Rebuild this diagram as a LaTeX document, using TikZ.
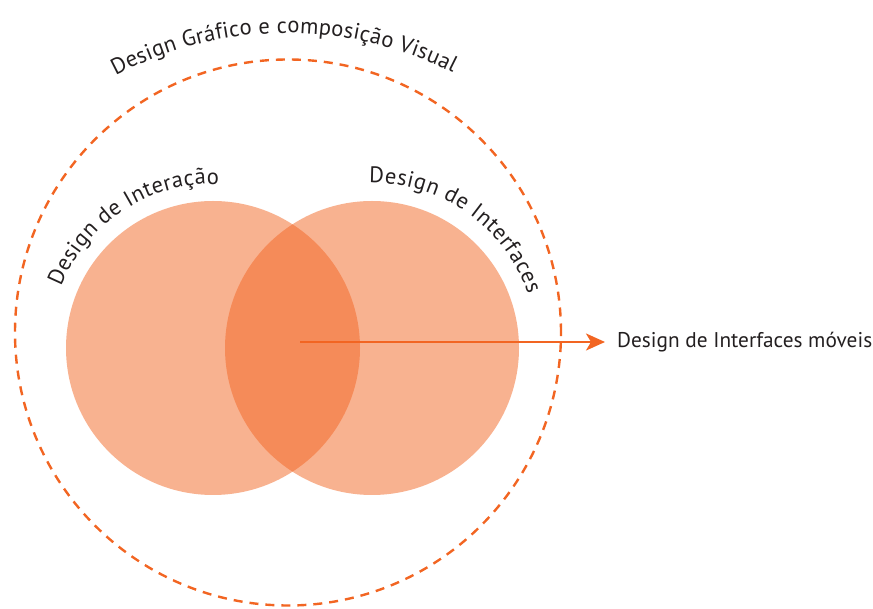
\documentclass[tikz,border=0pt]{standalone}
\usepackage{fontspec}
\setmainfont{PT Sans}
\usetikzlibrary{decorations.text,arrows.meta}
\definecolor{orng}{HTML}{F26522}
\definecolor{txtc}{HTML}{231F20}
\begin{document}
\begin{tikzpicture}[x=1pt,y=1pt,
  venn/.style={fill=orng, fill opacity=0.5},
  outerring/.style={draw=orng, line width=2.4pt, dash pattern=on 9pt off 7pt},
  curvedlabel/.style={decorate, text=txtc},
  mainarrow/.style={draw=orng, line width=2.4pt, -{Stealth[length=19pt,width=17pt,inset=5pt]}},
  sidelabel/.style={anchor=west, inner sep=0pt, text=txtc, font=\fontsize{21.3}{25}\selectfont}]
\useasboundingbox (0,0) rectangle (873,608);
% centres
\coordinate (oc) at (288,275.5);
\coordinate (tc) at (287,210);
\coordinate (lc) at (213,260);
\coordinate (rc) at (372,260);
% outer dashed circle
\draw[outerring] (oc) circle[radius=273];
% venn circles
\fill[venn] (lc) circle[radius=147];
\fill[venn] (rc) circle[radius=147];
% curved labels
\path[curvedlabel, decoration={text along path, text align=fit to path,
  text={|\fontsize{22.5}{26}\selectfont\color{txtc}|Design Gráfico e composição Visual}}]
  (tc) ++(118:365) arc[start angle=118, end angle=63, radius=365];
\path[curvedlabel, decoration={text along path, text align=fit to path,
  text={|\fontsize{22.5}{26}\selectfont\color{txtc}|Design de Interação}}]
  (lc) ++(158:164) arc[start angle=158, end angle=88, radius=164];
\path[curvedlabel, decoration={text along path, text align=fit to path,
  text={|\fontsize{22.5}{26}\selectfont\color{txtc}|Design de Interfaces}}]
  (rc) ++(91:165) arc[start angle=91, end angle=19, radius=165];
% arrow and its label
\coordinate (a0) at (300,266);
\node[sidelabel] (mob) at (617,266) {Design de Interfaces móveis};
\draw[mainarrow, shorten >=12pt] (a0) -- (mob.west);
\end{tikzpicture}
\end{document}
